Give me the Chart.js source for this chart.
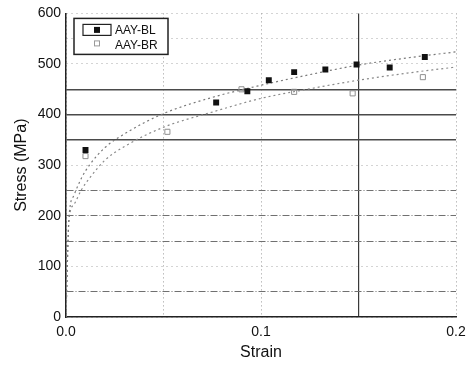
<!DOCTYPE html>
<html>
<head>
<meta charset="utf-8">
<title>Stress–Strain</title>
<script src="https://cdn.jsdelivr.net/npm/chart.js@4/dist/chart.umd.min.js"></script>
<style>
  html, body { margin: 0; padding: 0; background: #ffffff; }
  canvas { display: block; }
</style>
</head>
<body>
<canvas id="chart" width="473" height="365"></canvas>
<script>
// Measured points, specimen AAY-BL
const blStrain = [0.010, 0.077, 0.093, 0.104, 0.117, 0.133, 0.149, 0.166, 0.184];
const blStress = [330, 424, 446, 468, 484, 489, 499, 493, 514];

// Measured points, specimen AAY-BR
const brStrain = [0.010, 0.052, 0.090, 0.117, 0.147, 0.183];
const brStress = [318, 366, 450, 445, 442, 474];

// Fitted hardening curves for both specimens
const fitStrain = [0, 0.0015, 0.004, 0.008, 0.012, 0.02, 0.03, 0.05, 0.075, 0.1, 0.125, 0.15, 0.175, 0.2];
const blFit = [0, 195, 240, 275, 300, 335, 362, 402, 434, 458, 479, 498, 512, 524];
const brFit = [0, 190, 222, 252, 274, 310, 337, 375, 405, 432, 451, 468, 482, 494];

// Axis ticks
const stressTicks = [0, 100, 200, 300, 400, 500, 600];
const strainTicks = [0.0, 0.1, 0.2];

const seriesNames = ['AAY-BL', 'AAY-BR'];

const FONT = "'Liberation Sans', Arial, Helvetica, sans-serif";

function pairs(xs, ys) { return xs.map((x, i) => ({ x: x, y: ys[i] })); }

// Grid line looks, by value
function yGridStyle(v) {
  if (v === 350 || v === 400 || v === 450) return { color: '#4a4a4a', width: 1.5, dash: [] };
  if (v === 50 || v === 150 || v === 200 || v === 250) return { color: '#707070', width: 1, dash: [7, 2, 1, 2] };
  return { color: '#a8a8a8', width: 1, dash: [1, 4] };
}
function xGridStyle(v) {
  const k = Math.round(v * 100);
  if (k === 15) return { color: '#3a3a3a', width: 1.2, dash: [] };
  return { color: '#9a9a9a', width: 1, dash: [1, 3] };
}

// Boxed legend in the upper-left corner of the plot
const boxedLegend = {
  id: 'boxedLegend',
  afterDatasetsDraw(chart) {
    const c = chart.ctx;
    const a = chart.chartArea;
    const x0 = a.left + 8, y0 = a.top + 5, w = 94, h = 36;
    c.save();
    c.fillStyle = '#ffffff';
    c.fillRect(x0, y0, w, h);
    c.strokeStyle = '#222';
    c.lineWidth = 1.5;
    c.strokeRect(x0, y0, w, h);
    // first entry: filled square inside a small frame
    c.lineWidth = 1.2;
    c.strokeRect(x0 + 9, y0 + 6, 28, 11);
    c.fillStyle = '#111';
    c.fillRect(x0 + 20, y0 + 8.5, 6, 6);
    // second entry: open light square
    c.strokeStyle = '#9a9a9a';
    c.lineWidth = 1;
    c.strokeRect(x0 + 20.5, y0 + 22.5, 5, 5);
    c.fillStyle = '#111';
    c.font = '12px ' + FONT;
    c.textBaseline = 'middle';
    c.textAlign = 'left';
    c.fillText(seriesNames[0], x0 + 41, y0 + 12);
    c.fillText(seriesNames[1], x0 + 41, y0 + 27);
    c.restore();
  }
};

new Chart(document.getElementById('chart'), {
  type: 'scatter',
  data: {
    datasets: [
      {
        label: seriesNames[0] + ' fit',
        type: 'line',
        data: pairs(fitStrain, blFit),
        borderColor: '#7a7a7a',
        borderWidth: 1.2,
        borderDash: [2, 3],
        pointRadius: 0,
        fill: false,
        cubicInterpolationMode: 'monotone',
        order: 3
      },
      {
        label: seriesNames[1] + ' fit',
        type: 'line',
        data: pairs(fitStrain, brFit),
        borderColor: '#8a8a8a',
        borderWidth: 1.2,
        borderDash: [2, 3],
        pointRadius: 0,
        fill: false,
        cubicInterpolationMode: 'monotone',
        order: 4
      },
      {
        label: seriesNames[0],
        data: pairs(blStrain, blStress),
        pointStyle: 'rect',
        pointRadius: 4.2,
        backgroundColor: '#111',
        borderColor: '#111',
        borderWidth: 0,
        order: 1
      },
      {
        label: seriesNames[1],
        data: pairs(brStrain, brStress),
        pointStyle: 'rect',
        pointRadius: 3.6,
        backgroundColor: 'rgba(255,255,255,0)',
        borderColor: '#8f8f8f',
        borderWidth: 1,
        order: 2
      }
    ]
  },
  options: {
    responsive: false,
    animation: false,
    devicePixelRatio: 1,
    layout: { padding: { top: 13, right: 17, left: 0, bottom: 0 } },
    plugins: {
      legend: { display: false },
      tooltip: { enabled: false }
    },
    scales: {
      x: {
        type: 'linear',
        min: 0,
        max: 0.2,
        afterFit(s) { s.height = 48; },
        ticks: {
          stepSize: 0.05,
          autoSkip: false,
          maxRotation: 0,
          padding: 7,
          color: '#111',
          font: { family: FONT, size: 14 },
          callback(v) {
            const hit = strainTicks.find(t => Math.abs(t - v) < 1e-9);
            return hit === undefined ? '' : hit.toFixed(1);
          }
        },
        grid: {
          drawTicks: false,
          tickLength: 0,
          color: c => xGridStyle(c.tick.value).color,
          lineWidth: c => xGridStyle(c.tick.value).width
        },
        border: {
          color: '#222',
          width: 1.5,
          dash: c => (c.tick ? xGridStyle(c.tick.value).dash : [])
        },
        title: {
          display: true,
          text: 'Strain',
          color: '#111',
          font: { family: FONT, size: 16 },
          padding: { top: 0, bottom: 3 }
        }
      },
      y: {
        type: 'linear',
        min: 0,
        max: 600,
        afterFit(s) { s.width = 66; },
        ticks: {
          stepSize: 50,
          autoSkip: false,
          padding: 5,
          color: '#111',
          font: { family: FONT, size: 14 },
          callback(v) { return stressTicks.includes(v) ? String(v) : ''; }
        },
        grid: {
          drawTicks: false,
          tickLength: 0,
          color: c => yGridStyle(c.tick.value).color,
          lineWidth: c => yGridStyle(c.tick.value).width
        },
        border: {
          color: '#222',
          width: 1.5,
          dash: c => (c.tick ? yGridStyle(c.tick.value).dash : [])
        },
        title: {
          display: true,
          text: 'Stress (MPa)',
          color: '#111',
          font: { family: FONT, size: 16 },
          padding: { top: 12, bottom: 0 }
        }
      }
    }
  },
  plugins: [boxedLegend]
});
</script>
</body>
</html>
